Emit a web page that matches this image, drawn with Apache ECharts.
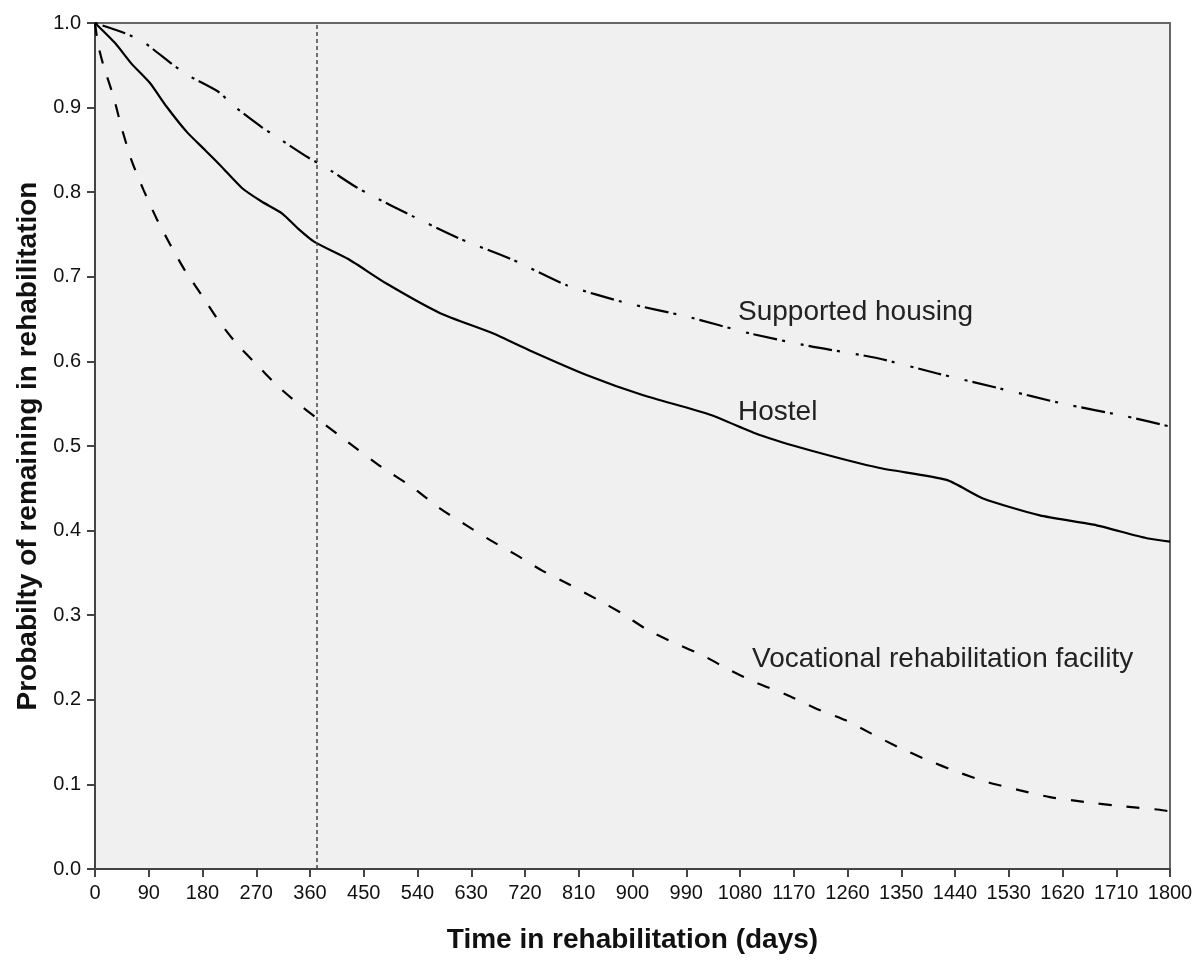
<!DOCTYPE html>
<html>
<head>
<meta charset="utf-8">
<script src="https://cdn.jsdelivr.net/npm/echarts@6/dist/echarts.min.js"></script>
<style>html,body{margin:0;padding:0;background:#fff;}#c{width:1200px;height:969px;}</style>
</head>
<body>
<div id="c"></div>
<script>
const xTicks = [0, 90, 180, 270, 360, 450, 540, 630, 720, 810, 900, 990, 1080, 1170, 1260, 1350, 1440, 1530, 1620, 1710, 1800];
const yTicks = [0.0, 0.1, 0.2, 0.3, 0.4, 0.5, 0.6, 0.7, 0.8, 0.9, 1.0];

const hostelDays = [0, 34, 61, 92, 120, 154, 184, 212, 246, 279, 313, 340, 368, 424, 488, 578, 667, 728, 823, 918, 1030, 1113, 1197, 1314, 1426, 1487, 1582, 1672, 1761, 1800];
const hostelProb = [1.0, 0.976, 0.952, 0.929, 0.901, 0.871, 0.850, 0.830, 0.805, 0.789, 0.775, 0.757, 0.741, 0.721, 0.692, 0.657, 0.633, 0.613, 0.584, 0.560, 0.537, 0.513, 0.495, 0.474, 0.460, 0.438, 0.418, 0.407, 0.391, 0.387];

const supportedDays = [0, 50, 84, 128, 156, 206, 234, 279, 307, 357, 385, 435, 466, 522, 611, 700, 790, 890, 991, 1097, 1197, 1309, 1409, 1515, 1621, 1727, 1800];
const supportedProb = [1.0, 0.988, 0.976, 0.952, 0.938, 0.919, 0.901, 0.877, 0.864, 0.841, 0.830, 0.807, 0.795, 0.775, 0.745, 0.720, 0.690, 0.669, 0.653, 0.633, 0.618, 0.604, 0.586, 0.568, 0.550, 0.535, 0.523];

const vocationalDays = [0, 5, 14, 31, 45, 61, 81, 103, 126, 151, 179, 206, 237, 271, 304, 340, 371, 419, 480, 530, 578, 620, 661, 706, 748, 795, 840, 885, 924, 971, 1019, 1063, 1108, 1158, 1206, 1256, 1300, 1345, 1393, 1443, 1493, 1549, 1599, 1660, 1722, 1783, 1800];
const vocationalProb = [1.0, 0.975, 0.950, 0.913, 0.875, 0.838, 0.803, 0.769, 0.738, 0.707, 0.678, 0.649, 0.621, 0.596, 0.572, 0.550, 0.533, 0.507, 0.475, 0.452, 0.426, 0.407, 0.389, 0.371, 0.353, 0.336, 0.319, 0.301, 0.283, 0.267, 0.252, 0.235, 0.220, 0.206, 0.190, 0.176, 0.160, 0.144, 0.129, 0.115, 0.103, 0.093, 0.085, 0.079, 0.074, 0.070, 0.068];

const referenceDay = 372;
const seriesNames = ['Supported housing', 'Hostel', 'Vocational rehabilitation facility'];

const zip = (xs, ys) => xs.map((x, i) => [x, ys[i]]);
const FONT = '"Liberation Sans", Arial, sans-serif';

const chart = echarts.init(document.getElementById('c'), null, {renderer: 'canvas'});
chart.setOption({
  animation: false,
  backgroundColor: '#ffffff',
  grid: {
    left: 95, right: 30, top: 23, bottom: 100,
    show: true, backgroundColor: '#f0f0f0', borderColor: '#666666', borderWidth: 2
  },
  xAxis: {
    type: 'value', min: 0, max: 1800, interval: 90,
    name: 'Time in rehabilitation (days)', nameLocation: 'middle', nameGap: 57,
    nameTextStyle: {fontFamily: FONT, fontSize: 28, fontWeight: 'bold', color: '#111'},
    axisLine: {show: true, lineStyle: {color: '#444444', width: 2}},
    axisTick: {show: true, length: 8, lineStyle: {color: '#444444', width: 2}},
    axisLabel: {fontFamily: FONT, fontSize: 20, color: '#111', margin: 14,
      formatter: v => xTicks.includes(v) ? String(v) : ''},
    splitLine: {show: false}
  },
  yAxis: {
    type: 'value', min: 0, max: 1, interval: 0.1,
    name: 'Probabilty of remaining in rehabilitation', nameLocation: 'middle', nameGap: 51,
    nameTextStyle: {fontFamily: FONT, fontSize: 28, fontWeight: 'bold', color: '#111'},
    axisLine: {show: true, lineStyle: {color: '#444444', width: 2}},
    axisTick: {show: true, length: 8, lineStyle: {color: '#444444', width: 2}},
    axisLabel: {fontFamily: FONT, fontSize: 20, color: '#111', margin: 14,
      formatter: v => v.toFixed(1)},
    splitLine: {show: false}
  },
  series: [
    {
      name: seriesNames[0], type: 'line', showSymbol: false, symbol: 'none', smooth: 0.2,
      data: zip(supportedDays, supportedProb),
      lineStyle: {color: '#000', width: 2.2, type: [3, 5, 24, 5, 3, 16]},
      markLine: {
        silent: true, symbol: 'none',
        label: {show: false},
        lineStyle: {color: '#444', width: 1.5, type: [4, 3]},
        data: [{xAxis: referenceDay}]
      }
    },
    {
      name: seriesNames[1], type: 'line', showSymbol: false, symbol: 'none', smooth: 0.2,
      data: zip(hostelDays, hostelProb),
      lineStyle: {color: '#000', width: 2.2, type: 'solid'}
    },
    {
      name: seriesNames[2], type: 'line', showSymbol: false, symbol: 'none', smooth: 0.2,
      data: zip(vocationalDays, vocationalProb),
      lineStyle: {color: '#000', width: 2.2, type: [13, 15]}
    }
  ],
  graphic: [
    {type: 'text', left: 738, top: 298, style: {text: seriesNames[0], fontFamily: FONT, fontSize: 28, fill: '#222'}},
    {type: 'text', left: 738, top: 398, style: {text: seriesNames[1], fontFamily: FONT, fontSize: 28, fill: '#222'}},
    {type: 'text', left: 752, top: 645, style: {text: seriesNames[2], fontFamily: FONT, fontSize: 28, fill: '#222'}}
  ]
});
</script>
</body>
</html>
